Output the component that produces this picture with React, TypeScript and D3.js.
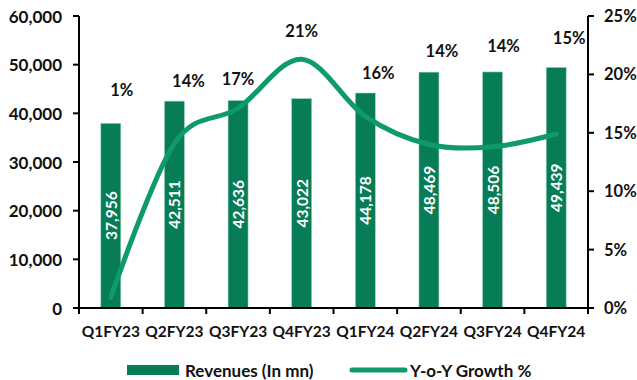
import React from "react";
import * as d3 from "d3";

const categories = ["Q1FY23", "Q2FY23", "Q3FY23", "Q4FY23", "Q1FY24", "Q2FY24", "Q3FY24", "Q4FY24"];
const revenues = [37956, 42511, 42636, 43022, 44178, 48469, 48506, 49439];
const growth = [0.9, 14.1, 17.1, 21.3, 16.4, 14.0, 13.8, 14.9];
const growthLabels = ["1%", "14%", "17%", "21%", "16%", "14%", "14%", "15%"];
const leftTicks = [0, 10000, 20000, 30000, 40000, 50000, 60000];
const rightTicks = [0, 5, 10, 15, 20, 25];

// label placement tweaks (pixels relative to bar top / band centre)
const labelDx = [11, 14, 0, 0, 13, 13, 11, 13];
const labelDy = [33, 20, 21.5, 67.5, 20, 21, 26, 29.5];

const W = 637, H = 380;
const M = { left: 79, right: 588, top: 16, bottom: 308 };
const BAR = "#077d57";
const LINE = "#0e9a6b";
const FONT = "Lato, 'Open Sans', sans-serif";

export default function App() {
  const x = d3.scaleBand<string>().domain(categories).range([M.left, M.right]);
  const yL = d3.scaleLinear().domain([0, 60000]).range([M.bottom, M.top]);
  const yR = d3.scaleLinear().domain([0, 25]).range([M.bottom, M.top]);
  const bw = 20;
  const cx = (c: string) => (x(c) as number) + x.bandwidth() / 2;
  const line = d3
    .line<number>()
    .x((_, i) => cx(categories[i]))
    .y((d) => yR(d))
    .curve(d3.curveCardinal.tension(0));
  const fmt = d3.format(",");
  const bounds = categories.map((c) => x(c) as number).concat([M.right]);

  return (
    <svg width={W} height={H} style={{ position: "absolute", left: 0, top: 0, fontFamily: FONT }}>
      {revenues.map((v, i) => (
        <rect key={i} x={cx(categories[i]) - bw / 2} y={yL(v)} width={bw} height={yL(0) - yL(v)} fill={BAR} stroke="#9fd6bf" strokeWidth={0.6} />
      ))}
      {revenues.map((v, i) => {
        const px = cx(categories[i]);
        const py = (yL(v) + yL(0)) / 2;
        return (
          <text key={i} transform={`translate(${px},${py}) rotate(-90)`} textAnchor="middle" dominantBaseline="central" fill="#fff" fontSize={15.5} fontWeight={700}>
            {fmt(v)}
          </text>
        );
      })}
      <path d={line(growth) as string} fill="none" stroke={LINE} strokeWidth={5} strokeLinecap="round" />
      {growthLabels.map((t, i) => (
        <text key={i} x={cx(categories[i]) + labelDx[i]} y={yL(revenues[i]) - labelDy[i]} textAnchor="middle" dominantBaseline="central" fontSize={16.5} fontWeight={700} fill="#111">
          {t}
        </text>
      ))}
      {/* left axis */}
      <line x1={M.left} x2={M.left} y1={M.top} y2={M.bottom} stroke="#000" strokeWidth={2} />
      {leftTicks.map((t) => (
        <g key={t}>
          <line x1={M.left - 6} x2={M.left} y1={yL(t)} y2={yL(t)} stroke="#000" strokeWidth={2} />
          <text x={62} y={yL(t)} textAnchor="end" dominantBaseline="central" fontSize={17} fontWeight={700} fill="#111">
            {fmt(t)}
          </text>
        </g>
      ))}
      {/* right axis */}
      <line x1={M.right} x2={M.right} y1={M.top} y2={M.bottom} stroke="#000" strokeWidth={2} />
      {rightTicks.map((t) => (
        <g key={t}>
          <line x1={M.right} x2={M.right + 6} y1={yR(t)} y2={yR(t)} stroke="#000" strokeWidth={2} />
          <text x={604} y={yR(t)} textAnchor="start" dominantBaseline="central" fontSize={16.5} fontWeight={700} fill="#111">
            {t + "%"}
          </text>
        </g>
      ))}
      {/* x axis */}
      <line x1={M.left} x2={M.right} y1={M.bottom} y2={M.bottom} stroke="#000" strokeWidth={2} />
      {bounds.map((b, i) => (
        <line key={i} x1={b} x2={b} y1={M.bottom} y2={M.bottom + 6} stroke="#000" strokeWidth={2} />
      ))}
      {categories.map((c) => (
        <text key={c} x={cx(c)} y={331} textAnchor="middle" dominantBaseline="central" fontSize={15.5} fontWeight={700} fill="#111">
          {c}
        </text>
      ))}
      {/* legend */}
      <rect x={127} y={365} width={52} height={10} fill={BAR} />
      <text x={185} y={370} dominantBaseline="central" fontSize={17} fontWeight={700} fill="#111">Revenues (In mn)</text>
      <line x1={352} x2={405} y1={370} y2={370} stroke={LINE} strokeWidth={5} strokeLinecap="round" />
      <text x={410} y={370} dominantBaseline="central" fontSize={17} fontWeight={700} fill="#111">Y-o-Y Growth %</text>
    </svg>
  );
}
